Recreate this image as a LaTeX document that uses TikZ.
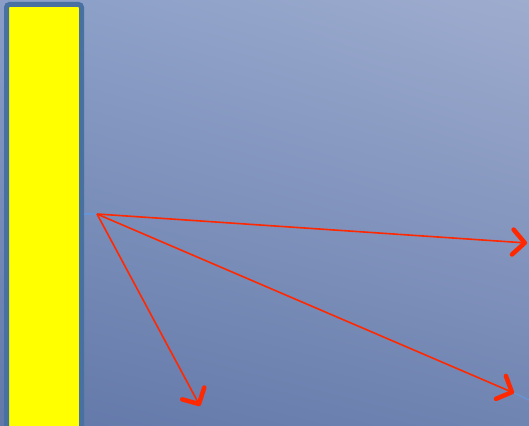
\documentclass[tikz,border=0pt]{standalone}
\usetikzlibrary{arrows.meta, positioning, calc, shadings}
\usepackage{xcolor}
\definecolor{bgtl}{RGB}{138,158,199}
\definecolor{bgtr}{RGB}{158,172,206}
\definecolor{bgbl}{RGB}{98,120,168}
\definecolor{bgbr}{RGB}{112,132,178}
\definecolor{barblue}{RGB}{72,112,160}
\definecolor{baryellow}{RGB}{255,255,0}
\definecolor{rayred}{RGB}{255,40,0}
\definecolor{faintblue}{RGB}{100,150,215}

\begin{document}
\begin{tikzpicture}[x=1pt,y=-1pt,
                    bar/.style={draw=barblue,line width=5pt,rounded corners=3pt,fill=baryellow,
                    minimum width=75pt,minimum height=430pt,inner sep=0pt},
                    ray/.style={-{Straight Barb[length=12pt,width=25pt,line width=4.5pt,round]},rayred,line width=1.6pt},
                    faint/.style={faintblue,line width=1.2pt}
]
\useasboundingbox (0,0) rectangle (529,425);
\shade[upper left=bgtl,upper right=bgtr,lower left=bgbl,lower right=bgbr] (0,0) rectangle (529,425);
\node[bar] (wall) at (44,219.5) {};
\coordinate (src) at (97,214);
\coordinate (t1) at (527,243);
\coordinate (t2) at (514,393);
\coordinate (t3) at (200,406);
\coordinate (t2end) at (529,400);
\draw[faint] (wall.east |- src) -- (src);
\draw[faint] (t2) -- (t2end);
\draw[ray] (src)--(t1); \draw[ray] (src)--(t2); \draw[ray] (src)--(t3);
\end{tikzpicture}
\end{document}
